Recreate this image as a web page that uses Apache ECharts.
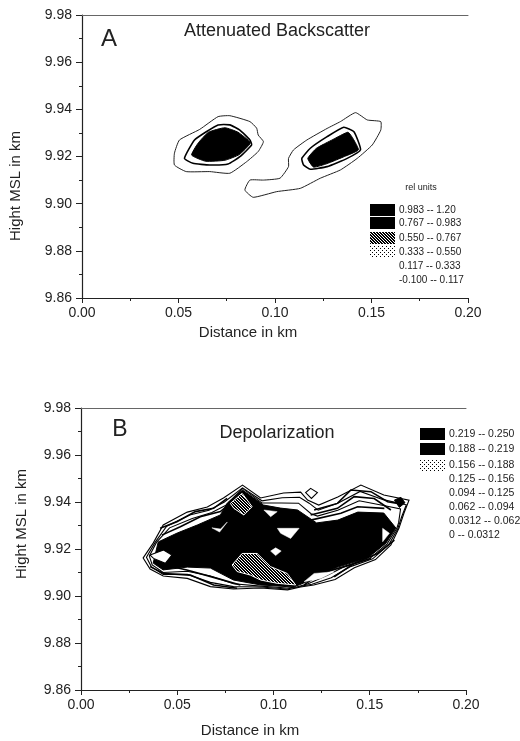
<!DOCTYPE html>
<html><head><meta charset="utf-8">
<style>html,body{margin:0;padding:0;background:#fff}#c{width:520px;height:741px}</style>
<script src="https://cdn.jsdelivr.net/npm/echarts@6/dist/echarts.min.js"></script>
</head><body><div id="c"></div>
<script>
// Data: [distance km, height km]
const legendA = ['0.983 -- 1.20','0.767 -- 0.983','0.550 -- 0.767','0.333 -- 0.550','0.117 -- 0.333','-0.100 -- 0.117'];
const legendB = ['0.219 -- 0.250','0.188 -- 0.219','0.156 -- 0.188','0.125 -- 0.156','0.094 -- 0.125','0.062 -- 0.094','0.0312 -- 0.062','0 -- 0.0312'];

const aLeftOuter = [[.0479,9.9214],[.0505,9.9270],[.0610,9.9315],[.0705,9.9369],[.0766,9.9373],[.0870,9.9348],[.0905,9.9320],[.0913,9.9291],[.0940,9.9263],[.0913,9.9221],[.0853,9.9178],[.0766,9.9129],[.0662,9.9136],[.0540,9.9136],[.0479,9.9164]];
const aLeftMid = [[.0531,9.9192],[.0583,9.9270],[.0644,9.9305],[.0705,9.9334],[.0766,9.9334],[.0818,9.9312],[.0870,9.9270],[.0879,9.9249],[.0818,9.9199],[.0757,9.9168],[.0662,9.9164],[.0575,9.9171]];
const aLeftCore = [[.0568,9.9206],[.0600,9.9255],[.0655,9.9303],[.0740,9.9322],[.0808,9.9303],[.0872,9.9258],[.0815,9.9208],[.0740,9.9184],[.0640,9.9180]];
const aRightOuter = [[.1096,9.9228],[.1165,9.9270],[.1270,9.9319],[.1339,9.9348],[.1417,9.9386],[.1478,9.9355],[.1548,9.9348],[.1548,9.9312],[.1504,9.9249],[.1426,9.9192],[.1339,9.9143],[.1235,9.9108],[.1131,9.9065],[.1009,9.9051],[.0887,9.9027],[.0844,9.9058],[.0870,9.9100],[.0940,9.9100],[.1026,9.9108],[.1070,9.9157],[.1070,9.9192]];
const aRightMid = [[.1139,9.9192],[.1183,9.9235],[.1270,9.9284],[.1356,9.9324],[.1409,9.9305],[.1443,9.9228],[.1374,9.9192],[.1270,9.9157],[.1183,9.9146],[.1148,9.9164]];
const aRightCore = [[.1170,9.9192],[.1215,9.9235],[.1300,9.9272],[.1378,9.9303],[.1405,9.9275],[.1432,9.9228],[.1360,9.9200],[.1270,9.9170],[.1200,9.9155]];

const bOuter = [[.0323,9.9162],[.0375,9.9225],[.0427,9.9302],[.0552,9.9357],[.0656,9.9379],[.0740,9.9417],[.0839,9.9472],[.0933,9.9417],[.1052,9.9438],[.1141,9.9442],[.1177,9.9408],[.1235,9.9387],[.1334,9.9421],[.1454,9.9472],[.1573,9.9430],[.1704,9.9408],[.1678,9.9353],[.1652,9.9289],[.1610,9.9217],[.1530,9.9155],[.1420,9.9120],[.1320,9.9070],[.1209,9.9047],[.1141,9.9038],[.1073,9.9026],[.0933,9.9034],[.0792,9.9030],[.0672,9.9040],[.0552,9.9075],[.0427,9.9085],[.0359,9.9115]];
const bRing1 = [[.0340,9.9165],[.0385,9.9228],[.0445,9.9297],[.0565,9.9345],[.0665,9.9365],[.0745,9.9400],[.0839,9.9460],[.0940,9.9405],[.1045,9.9418],[.1135,9.9420],[.1185,9.9395],[.1232,9.9365],[.1334,9.9395],[.1450,9.9445],[.1570,9.9410],[.1690,9.9388],[.1665,9.9335],[.1645,9.9285],[.1600,9.9220],[.1515,9.9158],[.1400,9.9125],[.1300,9.9078],[.1200,9.9050],[.1130,9.9040],[.1070,9.9030],[.0933,9.9038],[.0792,9.9040],[.0672,9.9058],[.0552,9.9092],[.0427,9.9092],[.0365,9.9125]];
const bRing2 = [[.0355,9.9170],[.0392,9.9228],[.0460,9.9290],[.0578,9.9330],[.0680,9.9355],[.0750,9.9385],[.0839,9.9458],[.0940,9.9396],[.1040,9.9396],[.1130,9.9395],[.1195,9.9350],[.1228,9.9340],[.1334,9.9365],[.1445,9.9405],[.1572,9.9385],[.1660,9.9370],[.1650,9.9312],[.1640,9.9287],[.1590,9.9222],[.1500,9.9160],[.1370,9.9125],[.1280,9.9088],[.1180,9.9052],[.1120,9.9038],[.1070,9.9034],[.0933,9.9042],[.0792,9.9052],[.0672,9.9085],[.0552,9.9105],[.0427,9.9100],[.0370,9.9132]];
const bCore = [[.0401,9.9230],[.0500,9.9268],[.0604,9.9302],[.0724,9.9345],[.0761,9.9396],[.0839,9.9451],[.0948,9.9387],[.1037,9.9374],[.1125,9.9366],[.1224,9.9311],[.1334,9.9323],[.1438,9.9357],[.1573,9.9353],[.1636,9.9289],[.1584,9.9225],[.1490,9.9162],[.1334,9.9123],[.1157,9.9055],[.1105,9.9038],[.0933,9.9047],[.0792,9.9068],[.0672,9.9119],[.0552,9.9123],[.0427,9.9111],[.0375,9.9140]];
const bHatchLow = [[.0785,9.9132],[.0837,9.9181],[.0915,9.9181],[.0985,9.9125],[.1071,9.9096],[.1115,9.9047],[.1019,9.9054],[.0933,9.9068],[.0880,9.9089],[.0811,9.9104]];
const bHatchTop = [[.0776,9.9394],[.0837,9.9437],[.0889,9.9380],[.0846,9.9345],[.0794,9.9373]];
const bWhiteLeft = [[.0359,9.9174],[.0429,9.9196],[.0472,9.9174],[.0438,9.9139],[.0377,9.9160]];
const bWhiteNotch = [[.0950,9.9366],[.1019,9.9359],[.0985,9.9337]];
const bWhiteRight = [[.1567,9.9288],[.1602,9.9267],[.1567,9.9231]];
const bWhiteCentre = [[.1020,9.9288],[.1133,9.9288],[.1089,9.9245],[.1037,9.9267]];
const bWhiteCurve = [[.1159,9.9061],[.1211,9.9096],[.1315,9.9103],[.1246,9.9075]];
const bWhiteSpot = [[.0985,9.9191],[.1011,9.9205],[.1040,9.9191],[.1011,9.9172]];
const bWhiteTick = [[.0680,9.9290],[.0720,9.9272],[.0760,9.9315],[.0725,9.9285]];
const bDiamond = [[.1193,9.9458],[.1228,9.9440],[.1197,9.9415],[.1167,9.9440]];
const bKnot = [[.1628,9.9408],[.1662,9.9420],[.1683,9.9397],[.1654,9.9377]];
const bNW1 = [[.0411,9.9288],[.0498,9.9316],[.0594,9.9359],[.0689,9.9373],[.0759,9.9415]];
const bNW2 = [[.0420,9.9259],[.0516,9.9295],[.0620,9.9337],[.0724,9.9359],[.0776,9.9394]];
const bNE1 = [[.1211,9.9366],[.1332,9.9394],[.1402,9.9451],[.1506,9.9444],[.1593,9.9401],[.1645,9.9394]];
const bNE2 = [[.1193,9.9345],[.1332,9.9373],[.1419,9.9423],[.1523,9.9415],[.1610,9.9366]];
const bNE3 = [[.1193,9.9323],[.1350,9.9352],[.1437,9.9380],[.1576,9.9373]];
const bSW1 = [[.0359,9.9125],[.0429,9.9096],[.0568,9.9089],[.0689,9.9047],[.0811,9.9033]];
const bSW2 = [[.0394,9.9139],[.0550,9.9111],[.0707,9.9075],[.0828,9.9047]];
const bSE1 = [[.1159,9.9047],[.1245,9.9096],[.1367,9.9125],[.1506,9.9160]];
const bSE2 = [[.1315,9.9082],[.1419,9.9139],[.1541,9.9181],[.1628,9.9238]];

function pattern(cells,n){
  const c=document.createElement('canvas');c.width=c.height=n;
  const g=c.getContext('2d');g.fillStyle='#fff';g.fillRect(0,0,n,n);g.fillStyle='#000';
  cells.forEach(p=>g.fillRect(p[0],p[1],1,1));
  return {image:c,repeat:'repeat'};
}
const H=pattern([[0,0],[1,0],[1,1],[2,1],[0,2],[2,2]],3);
const SP=pattern([[0,0],[2,2]],4);
const S={
  line:{fill:'none',stroke:'#222',lineWidth:1},
  ring:{fill:'#fff',stroke:'#000',lineWidth:1.1},
  mid:{fill:'#fff',stroke:'#000',lineWidth:1.6},
  core:{fill:'#000',stroke:'#000',lineWidth:1},
  hatch:{fill:H,stroke:'#fff',lineWidth:1},
  white:{fill:'#fff',stroke:'#fff',lineWidth:.5},
  band:{fill:'none',stroke:'#000',lineWidth:1.6}
};
const shapesA=[[aLeftOuter,'line',.15],[aLeftMid,'mid',.15],[aLeftCore,'core',.15],[aRightOuter,'line',.15],[aRightMid,'mid',.15],[aRightCore,'core',.15]];
const shapesB=[[bOuter,'ring',0],[bRing1,'ring',0],[bRing2,'ring',0],[bNW1,'band',0,1],[bNW2,'band',0,1],[bNE1,'band',0,1],[bNE2,'band',0,1],[bNE3,'band',0,1],[bSW1,'band',0,1],[bSW2,'band',0,1],[bSE1,'band',0,1],[bSE2,'band',0,1],[bCore,'core',0],[bHatchLow,'hatch',0],[bHatchTop,'hatch',0],[bWhiteLeft,'ring',0],[bWhiteNotch,'white',0],[bWhiteRight,'white',0],[bWhiteCentre,'white',0],[bWhiteCurve,'white',0],[bWhiteSpot,'white',0],[bWhiteTick,'white',0],[bDiamond,'ring',0],[bKnot,'core',0]];

function contourSeries(shapes,xi,yi){
  return {type:'custom',xAxisIndex:xi,yAxisIndex:yi,clip:false,silent:true,animation:false,
    data:shapes.map(s=>s[0][0]),
    renderItem:function(p,api){
      const s=shapes[p.dataIndex];
      return {type:s[3]?'polyline':'polygon',shape:{points:s[0].map(q=>api.coord(q)),smooth:s[2]},style:S[s[1]]};
    }};
}
const font='"Liberation Sans",Arial,sans-serif';
function axesFor(gi){
  const x={type:'value',gridIndex:gi,min:0,max:.2,interval:.05,position:'bottom',
    axisLine:{show:true,onZero:false,lineStyle:{color:'#222',width:1.2}},
    axisTick:{show:true,length:5,inside:false,lineStyle:{color:'#222'}},
    minorTick:{show:true,splitNumber:2,length:3,lineStyle:{color:'#222'}},
    splitLine:{show:false},
    axisLabel:{color:'#222',fontSize:14,fontFamily:font,margin:8,formatter:v=>v.toFixed(2)}};
  const top={type:'value',gridIndex:gi,min:0,max:.2,position:'top',
    axisLine:{show:true,onZero:false,lineStyle:{color:'#666',width:1}},axisTick:{show:false},axisLabel:{show:false},splitLine:{show:false}};
  const y={type:'value',gridIndex:gi,min:9.86,max:9.98,interval:.02,position:'left',
    axisLine:{show:true,onZero:false,lineStyle:{color:'#222',width:1.2}},
    axisTick:{show:true,length:6,lineStyle:{color:'#222'}},
    minorTick:{show:true,splitNumber:2,length:3,lineStyle:{color:'#222'}},
    splitLine:{show:false},
    axisLabel:{color:'#222',fontSize:14,fontFamily:font,margin:10,formatter:v=>v.toFixed(2)}};
  return {x,top,y};
}
const A=axesFor(0),B=axesFor(1);
function txt(x,y,t,size,extra){return {type:'text',x,y,style:Object.assign({text:t,fontSize:size,fontFamily:font,fill:'#222',align:'center',verticalAlign:'middle'},extra||{})};}
function rot(x,y,t,size){return {type:'text',x,y,rotation:Math.PI/2,style:{text:t,fontSize:size,fontFamily:font,fill:'#222',align:'center',verticalAlign:'middle'}};}
const g=[
  txt(109,39,'A',24),txt(277,31,'Attenuated Backscatter',18),
  txt(248,333,'Distance in km',15),rot(16,186,'Hight MSL in km',15),
  txt(120,430,'B',23),txt(277,433,'Depolarization',18),
  txt(250,731,'Distance in km',15),rot(22,524,'Hight MSL in km',15),
  txt(421,188,'rel units',9)
];
const rowsA=[210,223,238,252,266,280],fillA=['#000','#000',H,SP,null,null];
legendA.forEach((t,i)=>{
  if(fillA[i])g.push({type:'rect',shape:{x:370,y:rowsA[i]-6,width:25,height:12},style:{fill:fillA[i]}});
  g.push(txt(399,rowsA[i],t,10,{align:'left'}));
});
const rowsB=[434,449,465,479,493,507,521,535],fillB=['#000','#000',SP,null,null,null,null,null];
legendB.forEach((t,i)=>{
  if(fillB[i])g.push({type:'rect',shape:{x:420,y:rowsB[i]-6,width:25,height:12},style:{fill:fillB[i]}});
  g.push(txt(449,rowsB[i],t,10.5,{align:'left'}));
});
const chart=echarts.init(document.getElementById('c'),null,{renderer:'canvas'});
chart.setOption({
  animation:false,backgroundColor:'#fff',
  grid:[{left:82,top:15,width:386,height:283},{left:81,top:408,width:385,height:282}],
  xAxis:[A.x,A.top,B.x,B.top],
  yAxis:[A.y,B.y],
  series:[contourSeries(shapesA,0,0),contourSeries(shapesB,2,1)],
  graphic:g
});
</script></body></html>
